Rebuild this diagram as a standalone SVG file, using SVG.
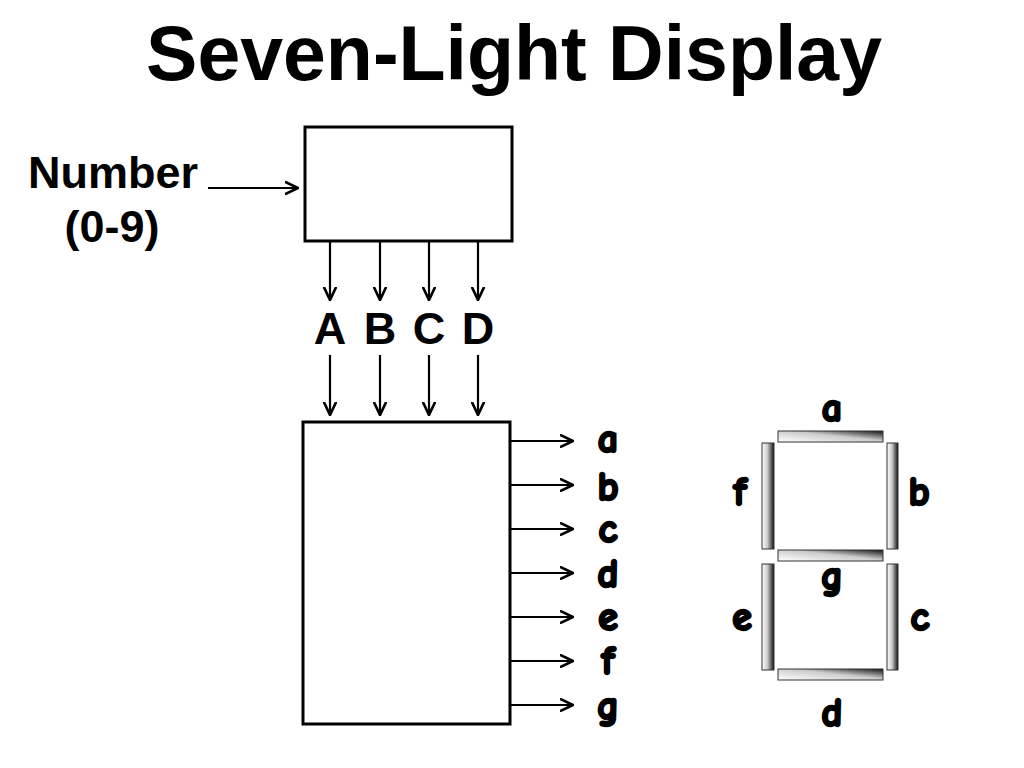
<svg xmlns="http://www.w3.org/2000/svg" width="1024" height="768" viewBox="0 0 1024 768">
<style>
.t{font-family:"Liberation Sans",Arial,sans-serif;font-weight:bold;fill:#000}
.c{font-family:"Comic Sans MS","Comic Neue","DejaVu Sans",sans-serif;font-weight:bold;font-size:40px;fill:#000;stroke:#000;stroke-width:2.4;text-anchor:middle}
.box{fill:#fff;stroke:#000;stroke-width:3}
.ln{stroke:#000;stroke-width:2.2;fill:none}
.seg{stroke:#333;stroke-width:1}
</style>
<defs>
<marker id="ah" viewBox="0 0 10 10" refX="9.5" refY="5" markerWidth="14" markerHeight="14" markerUnits="userSpaceOnUse" orient="auto">
<path d="M0,0.5 L9.5,5 L0,9.5" fill="none" stroke="#000" stroke-width="1.9"/>
</marker>
<linearGradient id="gh" x1="0" y1="1" x2="1" y2="0">
<stop offset="0" stop-color="#fff"/><stop offset="0.55" stop-color="#ccc"/><stop offset="1" stop-color="#111"/>
</linearGradient>
<linearGradient id="gv" x1="0" y1="0" x2="1" y2="0">
<stop offset="0" stop-color="#fff"/><stop offset="0.45" stop-color="#ccc"/><stop offset="1" stop-color="#111"/>
</linearGradient>
</defs>
<rect width="1024" height="768" fill="#fff"/>
<text class="t" x="514" y="80" font-size="77" text-anchor="middle">Seven-Light Display</text>
<g id="input">
<text class="t" x="113" y="188" font-size="45" text-anchor="middle">Number</text>
<text class="t" x="112" y="242" font-size="45" text-anchor="middle">(0-9)</text>
</g>
<g id="encoder"><rect class="box" x="305" y="127" width="207" height="114"/></g>
<g id="decoder"><rect class="box" x="303" y="422" width="207" height="302"/></g>
<g id="bits" class="t" font-size="45" text-anchor="middle">
<text x="330" y="344">A</text><text x="380" y="344">B</text><text x="429" y="344">C</text><text x="478" y="344">D</text>
</g>
<g id="connectors" class="ln" marker-end="url(#ah)">
<line x1="208" y1="188" x2="298" y2="188"/>
<line x1="330" y1="241" x2="330" y2="300"/>
<line x1="380" y1="241" x2="380" y2="300"/>
<line x1="429" y1="241" x2="429" y2="300"/>
<line x1="478" y1="241" x2="478" y2="300"/>
<line x1="330" y1="355" x2="330" y2="415"/>
<line x1="380" y1="355" x2="380" y2="415"/>
<line x1="429" y1="355" x2="429" y2="415"/>
<line x1="478" y1="355" x2="478" y2="415"/>
<line x1="510" y1="441" x2="573" y2="441"/>
<line x1="510" y1="485" x2="573" y2="485"/>
<line x1="510" y1="529" x2="573" y2="529"/>
<line x1="510" y1="573" x2="573" y2="573"/>
<line x1="510" y1="617" x2="573" y2="617"/>
<line x1="510" y1="661" x2="573" y2="661"/>
<line x1="510" y1="705" x2="573" y2="705"/>
</g>
<g id="outputs">
<text class="c" x="608" y="452">a</text>
<text class="c" x="608" y="500">b</text>
<text class="c" x="608" y="542">c</text>
<text class="c" x="608" y="587">d</text>
<text class="c" x="608" y="630">e</text>
<text class="c" x="608" y="674">f</text>
<text class="c" x="608" y="719">g</text>
</g>
<g id="display">
<rect class="seg" x="778" y="431" width="105" height="11" fill="url(#gh)"/>
<rect class="seg" x="887" y="443" width="11" height="106" fill="url(#gv)"/>
<rect class="seg" x="887" y="564" width="11" height="106" fill="url(#gv)"/>
<rect class="seg" x="778" y="669" width="105" height="11" fill="url(#gh)"/>
<rect class="seg" x="762" y="564" width="12" height="106" fill="url(#gv)"/>
<rect class="seg" x="762" y="443" width="12" height="106" fill="url(#gv)"/>
<rect class="seg" x="778" y="550" width="105" height="11" fill="url(#gh)"/>
<text class="c" x="832" y="421">a</text>
<text class="c" x="919" y="505">b</text>
<text class="c" x="920" y="630">c</text>
<text class="c" x="832" y="726">d</text>
<text class="c" x="742" y="630">e</text>
<text class="c" x="740" y="505">f</text>
<text class="c" x="832" y="589">g</text>
</g>
</svg>
